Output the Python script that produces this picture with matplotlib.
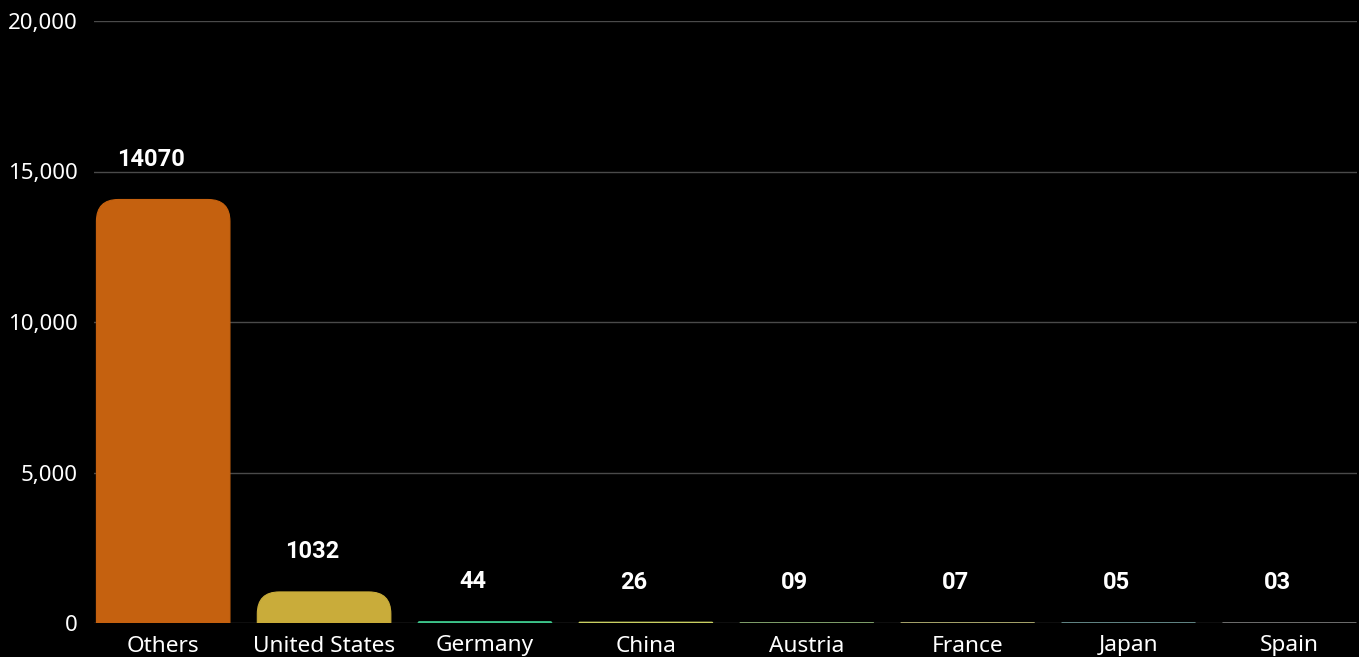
import matplotlib
matplotlib.use("Agg")
import matplotlib.pyplot as plt
from matplotlib.path import Path
from matplotlib.patches import PathPatch
from matplotlib.ticker import FuncFormatter

# data
countries = ["Others", "United States", "Germany", "China", "Austria", "France", "Japan", "Spain"]
counts = [14070, 1032, 44, 26, 9, 7, 5, 3]
colors = ["#c5610f", "#c9ac3a", "#3dc48a", "#c8cf62", "#7c9c68", "#a29f68", "#5f8282", "#6a6a6a"]
y_ticks = [0, 5000, 10000, 15000, 20000]

plt.rcParams["font.family"] = ["Noto Sans", "DejaVu Sans"]

fig = plt.figure(figsize=(13.59, 6.57), dpi=100, facecolor="black")
ax = fig.add_axes([94 / 1359, 34 / 657, 1263 / 1359, 602 / 657], facecolor="black")
ax.set_xlim(-0.43, 7.42)
ax.set_ylim(0, 20000)

bar_w = 0.83
radius_px = 22

# pixels per data unit, to keep the corner radius round on screen
p0 = ax.transData.transform((0, 0))
p1 = ax.transData.transform((1, 1000))
px_x = p1[0] - p0[0]
px_y = (p1[1] - p0[1]) / 1000

for i, (v, c) in enumerate(zip(counts, colors)):
    x0, x1 = i - bar_w / 2, i + bar_w / 2
    ry_full = radius_px / px_y
    ry = min(ry_full, v)
    rx = (radius_px / px_x) * (ry / ry_full)
    verts = [(x0, 0), (x0, v - ry), (x0, v), (x0 + rx, v),
             (x1 - rx, v), (x1, v), (x1, v - ry), (x1, 0), (x0, 0)]
    codes = [Path.MOVETO, Path.LINETO, Path.CURVE3, Path.CURVE3,
             Path.LINETO, Path.CURVE3, Path.CURVE3, Path.LINETO, Path.CLOSEPOLY]
    ax.add_patch(PathPatch(Path(verts, codes), facecolor=c, edgecolor=c,
                           lw=0.8, zorder=3))
    ax.annotate(f"{v:02d}", (i, v), xytext=(-12, 40), textcoords="offset pixels",
                ha="center", va="center", color="white", fontsize=17,
                fontweight="bold", family=["Roboto", "DejaVu Sans"], zorder=4)

ax.set_xticks(range(len(countries)))
ax.set_xticklabels(countries)
ax.set_yticks(y_ticks)
ax.yaxis.set_major_formatter(FuncFormatter(lambda v, _: f"{int(v):,}"))
ax.tick_params(axis="both", length=0, colors="white")
ax.tick_params(axis="y", pad=12, labelsize=16)
ax.tick_params(axis="x", pad=9, labelsize=16.3)
ax.grid(axis="y", color="#4a4a4a", lw=1, zorder=0)
ax.set_axisbelow(True)
for s in ax.spines.values():
    s.set_visible(False)

fig.savefig("out.png", dpi=100, facecolor="black")
